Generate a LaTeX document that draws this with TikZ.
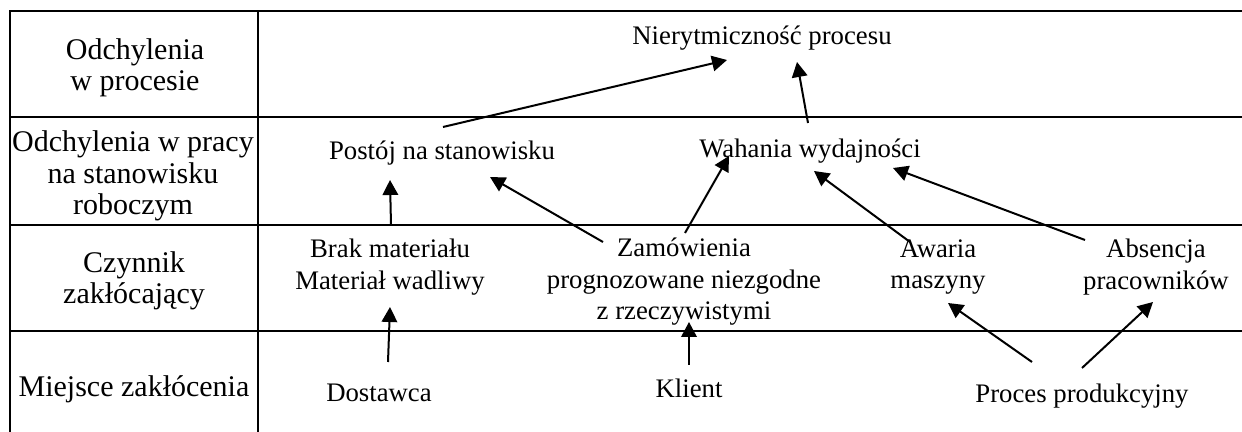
\documentclass[tikz,border=0pt]{standalone}
\usepackage{fontspec}
\setmainfont{Liberation Serif}
\usepackage{tikz}
\usetikzlibrary{arrows.meta}

\begin{document}
\begin{tikzpicture}[x=0.4pt,y=-0.4pt,
  txt/.style={align=center,inner sep=0pt,font=\fontsize{10.7}{12.6}\selectfont},
  head/.style={txt,font=\fontsize{12}{12.6}\selectfont},
  arr/.style={-{Triangle[length=6pt,width=6.2pt]},line width=0.8pt},
  tab/.style={line width=1.1pt}]
  \useasboundingbox (0,0) rectangle (1242,432);

  % tabela
  \draw[tab] (10,432) -- (10,11) -- (1242,11);
  \draw[tab] (258,11) -- (258,432);
  \draw[tab] (10,117) -- (1242,117);
  \draw[tab] (10,225) -- (1242,225);
  \draw[tab] (10,331) -- (1242,331);

  % nagłówki
  \node[head] (h1) at (135,68) {Odchylenia\\w procesie};
  \node[head] (h2) at (133,176) {Odchylenia w pracy\\na stanowisku\\roboczym};
  \node[head] (h3) at (134,281) {Czynnik\\zakłócający};
  \node[head] (h4) at (134,389) {Miejsce zakłócenia};

  % węzły
  \node[txt] (nier) at (762,38) {Nierytmiczność procesu};
  \node[txt] (postoj) at (442,153) {Postój na stanowisku};
  \node[txt] (wahania) at (810,151) {Wahania wydajności};
  \node[txt] (brak) at (390,267) {Brak materiału\\Materiał wadliwy};
  \node[txt] (zam) at (684,282) {Zamówienia\\prognozowane niezgodne\\z rzeczywistymi};
  \node[txt] (awaria) at (938,267) {Awaria\\maszyny};
  \node[txt] (absencja) at (1156,267) {Absencja\\pracowników};
  \node[txt] (dostawca) at (379,393) {Dostawca};
  \node[txt] (klient) at (689,388) {Klient};
  \node[txt] (proces) at (1082,396) {Proces produkcyjny};

  % strzałki
  \draw[arr] ([shift={(1,-26)}]postoj.center) -- ([shift={(-35,22)}]nier.center);
  \draw[arr] ([shift={(-2,-28)}]wahania.center) -- ([shift={(35,24)}]nier.center);
  \draw[arr] ([shift={(1,-42)}]brak.center) -- ([shift={(-52,27)}]postoj.center);
  \draw[arr] ([shift={(-81,-40)}]zam.center) -- ([shift={(48,24)}]postoj.center);
  \draw[arr] ([shift={(1,-49)}]zam.center) -- ([shift={(-81,5)}]wahania.center);
  \draw[arr] ([shift={(-28,-25)}]awaria.center) -- ([shift={(4,20)}]wahania.center);
  \draw[arr] ([shift={(-71,-27)}]absencja.center) -- ([shift={(83,17)}]wahania.center);
  \draw[arr] ([shift={(9,-31)}]dostawca.center) -- ([shift={(0,40)}]brak.center);
  \draw[arr] ([shift={(0,-23)}]klient.center) -- ([shift={(5,40)}]zam.center);
  \draw[arr] ([shift={(-50,-34)}]proces.center) -- ([shift={(10,36)}]awaria.center);
  \draw[arr] ([shift={(0,-28)}]proces.center) -- ([shift={(-3,35)}]absencja.center);
\end{tikzpicture}
\end{document}
